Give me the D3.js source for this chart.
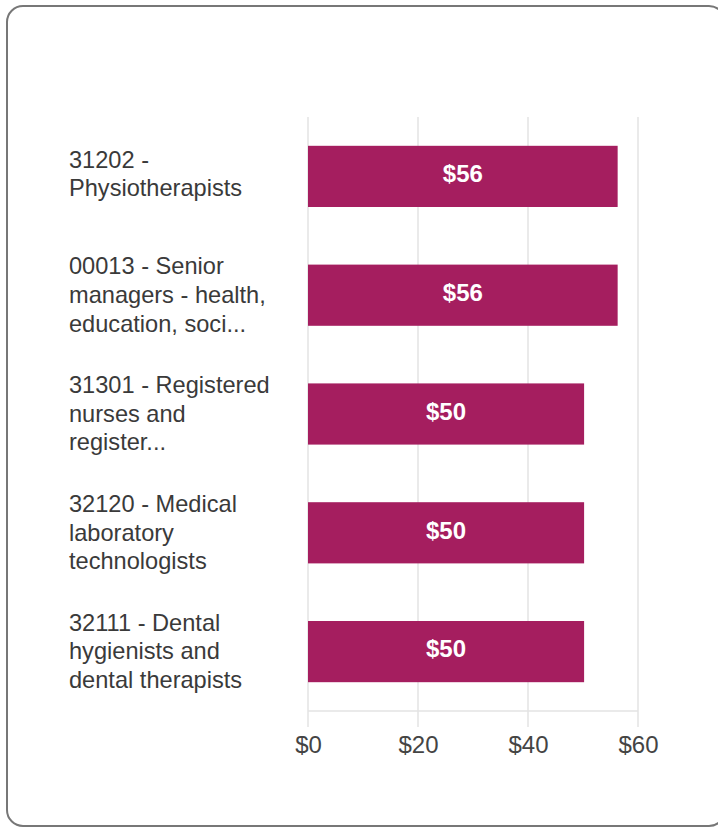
<!DOCTYPE html>
<html>
<head>
<meta charset="utf-8">
<script src="https://cdn.jsdelivr.net/npm/d3@7"></script>
<style>
  body { margin: 0; background: #fff; }
  svg { display: block; font-family: Arial, "Liberation Sans", sans-serif; }
</style>
</head>
<body>
<svg id="chart" width="718" height="827"></svg>
<script>
// occupations (already wrapped the way the chart shows them)
const categories = [
  ["31202 -", "Physiotherapists"],
  ["00013 - Senior", "managers - health,", "education, soci..."],
  ["31301 - Registered", "nurses and", "register..."],
  ["32120 - Medical", "laboratory", "technologists"],
  ["32111 - Dental", "hygienists and", "dental therapists"]
];
const wages = [56.3, 56.3, 50.2, 50.2, 50.2];
const wageLabels = ["$56", "$56", "$50", "$50", "$50"];
const xTicks = [0, 20, 40, 60];

let svg = d3.select('#chart');

// card border
svg.append('rect')
  .attr('x', 7).attr('y', 6)
  .attr('width', 718).attr('height', 820)
  .attr('rx', 16)
  .attr('fill', '#fff')
  .attr('stroke', '#777')
  .attr('stroke-width', 2);

let plotLeft = 308, plotRight = 638, plotTop = 117, plotBottom = 711;

let xscale = d3.scaleLinear()
               .domain([0, 60])
               .range([plotLeft, plotRight]);
let yscale = d3.scaleBand()
               .domain(d3.range(categories.length))
               .range([plotTop, plotBottom])
               .paddingInner(0.485)
               .paddingOuter(0.2425);

// vertical gridlines (run a bit past the baseline like tick marks)
svg.append('g')
  .selectAll('line')
  .data(xTicks)
  .enter()
  .append('line')
  .attr('x1', d => xscale(d)).attr('x2', d => xscale(d))
  .attr('y1', plotTop).attr('y2', plotBottom + 16)
  .attr('stroke', '#e3e3e3')
  .attr('stroke-width', 1.5);

// baseline
svg.append('line')
  .attr('x1', plotLeft).attr('x2', plotRight)
  .attr('y1', plotBottom).attr('y2', plotBottom)
  .attr('stroke', '#e3e3e3')
  .attr('stroke-width', 1.5);

// x axis labels
let xaxis = d3.axisBottom(xscale)
              .tickValues(xTicks)
              .tickFormat(d => '$' + d)
              .tickSize(0)
              .tickPadding(25);
let gx = svg.append('g')
  .attr('transform', `translate(0, ${plotBottom})`)
  .call(xaxis);
gx.select('.domain').remove();
gx.selectAll('text')
  .attr('font-size', 24)
  .attr('fill', '#444')
  .attr('font-family', 'Arial, "Liberation Sans", sans-serif');

// bars
svg.append('g')
  .selectAll('rect')
  .data(wages)
  .enter()
  .append('rect')
  .attr('x', xscale(0))
  .attr('y', (d, i) => yscale(i))
  .attr('width', d => xscale(d) - xscale(0))
  .attr('height', yscale.bandwidth())
  .attr('fill', '#a51e5f');

// value labels inside bars
svg.append('g')
  .selectAll('text')
  .data(wages)
  .enter()
  .append('text')
  .attr('x', d => (xscale(0) + xscale(d)) / 2)
  .attr('y', (d, i) => yscale(i) + yscale.bandwidth() / 2)
  .attr('dy', '0.24em')
  .attr('text-anchor', 'middle')
  .attr('font-size', 24)
  .attr('font-weight', 'bold')
  .attr('fill', '#fff')
  .text((d, i) => wageLabels[i]);

// category labels
let lineH = 28.6;
let cat = svg.append('g')
  .selectAll('text')
  .data(categories)
  .enter()
  .append('text')
  .attr('font-size', 23.6)
  .attr('fill', '#3a3a3a');
cat.each(function(lines, i) {
  let cy = yscale(i) + yscale.bandwidth() / 2;
  let y0 = cy - (lines.length - 1) * lineH / 2 - (lines.length == 2 ? 2 : 0);
  d3.select(this)
    .selectAll('tspan')
    .data(lines)
    .enter()
    .append('tspan')
    .attr('x', 69)
    .attr('y', (d, j) => y0 + j * lineH)
    .attr('dy', '0.33em')
    .text(d => d);
});
</script>
</body>
</html>
